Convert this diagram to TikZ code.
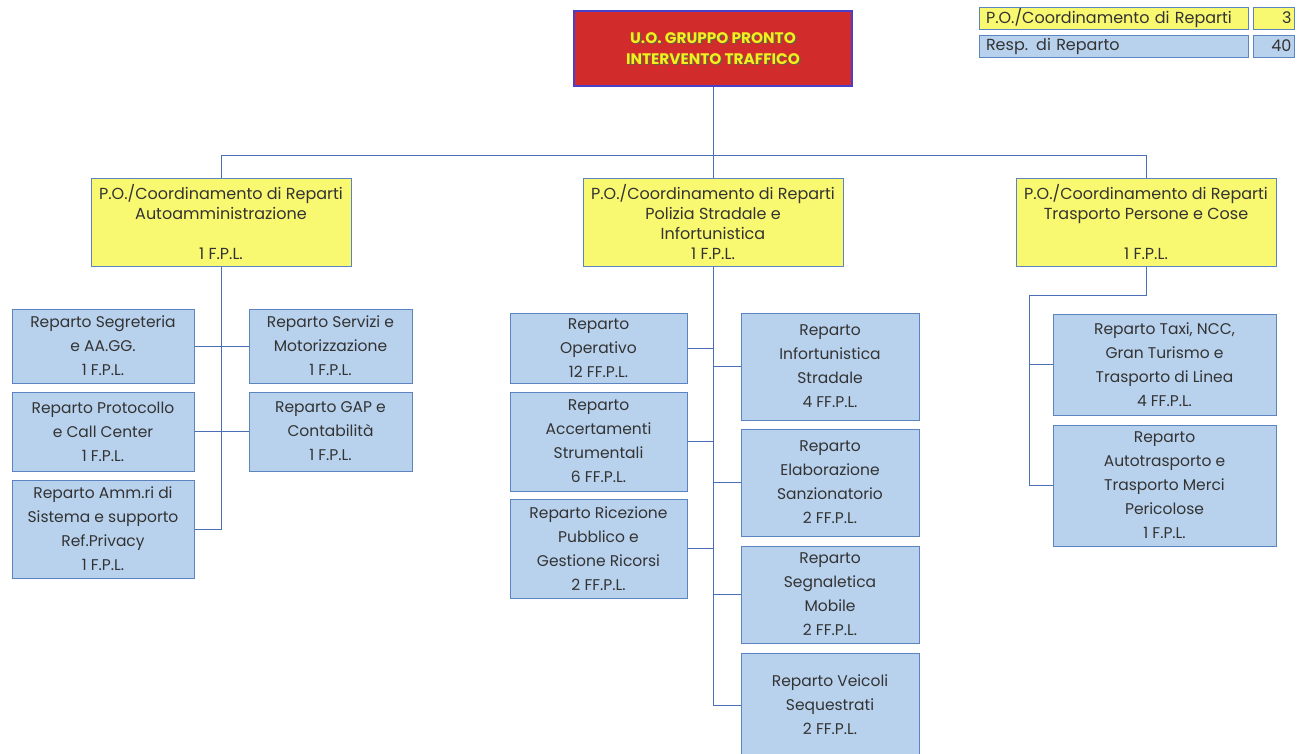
\documentclass[tikz,border=0pt]{standalone}
\usepackage{fontspec}
\setmainfont{Poppins}
\definecolor{yel}{HTML}{F9F871}
\definecolor{blu}{HTML}{B8D2EE}
\definecolor{bord}{HTML}{5B84C0}
\definecolor{lin}{HTML}{4A6FB5}
\definecolor{redf}{HTML}{D22B2B}
\definecolor{redb}{HTML}{4A3FC8}
\definecolor{txt}{HTML}{333333}
\definecolor{ttl}{HTML}{F6EE1E}
\definecolor{shd}{HTML}{6E5E40}
\tikzset{
  base/.style={draw=bord, line width=1pt, inner sep=0pt, text=txt, align=center},
  ybox/.style={base, fill=yel, minimum width=260pt, minimum height=88pt, font=\fontsize{16}{20}\selectfont},
  bbox/.style={base, fill=blu, font=\fontsize{15.5}{24}\selectfont},
  lgd/.style={base, fill=#1, minimum height=22pt, font=\fontsize{16}{18}\selectfont},
  conn/.style={draw=lin, line width=0.9pt}
}
\begin{document}
\begin{tikzpicture}[x=1pt,y=-1pt]
\useasboundingbox (0,0) rectangle (1303,753);
% title
\node[draw=redb, line width=1.2pt, fill=redf, minimum width=278pt, minimum height=75pt, inner sep=0pt] (top) at (713,48.5) {};
\node[text=shd, font=\bfseries\fontsize{15.3}{21}\selectfont, align=center] (topshadow) at (714.5,50) {U.O. GRUPPO PRONTO\\INTERVENTO TRAFFICO};
\node[text=ttl, font=\bfseries\fontsize{15.3}{21}\selectfont, align=center] (toptext) at (713,48.5) {U.O. GRUPPO PRONTO\\INTERVENTO TRAFFICO};
% legend
\node[lgd=yel, minimum width=269pt, text width=255pt, align=left] (lg1) at (1113.5,18) {P.O./Coordinamento di Reparti};
\node[lgd=yel, minimum width=41pt, text width=36pt, align=right] (ln1) at (1273.5,18) {3};
\node[lgd=blu, minimum width=269pt, text width=255pt, align=left] (lg2) at (1113.5,46) {Resp. di Reparto};
\node[lgd=blu, minimum width=41pt, text width=36pt, align=right] (ln2) at (1273.5,46) {40};
% yellow boxes
\node[ybox] (y1) at (221,222) {P.O./Coordinamento di Reparti\\Autoamministrazione\\\strut\\1 F.P.L.};
\node[ybox] (y2) at (713,222) {P.O./Coordinamento di Reparti\\Polizia Stradale e\\Infortunistica\\1 F.P.L.};
\node[ybox] (y3) at (1146,222) {P.O./Coordinamento di Reparti\\Trasporto Persone e Cose\\\strut\\1 F.P.L.};
% left column
\node[bbox, minimum width=182pt, minimum height=74pt] (l1) at (103,346) {Reparto Segreteria\\e AA.GG.\\1 F.P.L.};
\node[bbox, minimum width=182pt, minimum height=79pt] (l2) at (103,431.5) {Reparto Protocollo\\e Call Center\\1 F.P.L.};
\node[bbox, minimum width=182pt, minimum height=98pt] (l3) at (103,529) {Reparto Amm.ri di\\Sistema e supporto\\Ref.Privacy\\1 F.P.L.};
\node[bbox, minimum width=163pt, minimum height=74pt] (r1) at (330.5,346) {Reparto Servizi e\\Motorizzazione\\1 F.P.L.};
\node[bbox, minimum width=163pt, minimum height=79pt] (r2) at (330.5,431.5) {Reparto GAP e\\Contabilità\\1 F.P.L.};
% middle column
\node[bbox, minimum width=177pt, minimum height=70pt] (m1) at (598.5,348) {Reparto\\Operativo\\12 FF.P.L.};
\node[bbox, minimum width=177pt, minimum height=99pt] (m2) at (598.5,441.5) {Reparto\\Accertamenti\\Strumentali\\6 FF.P.L.};
\node[bbox, minimum width=177pt, minimum height=99pt] (m3) at (598.5,548.5) {Reparto Ricezione\\Pubblico e\\Gestione Ricorsi\\2 FF.P.L.};
\node[bbox, minimum width=178pt, minimum height=107pt] (n1) at (830,366.5) {Reparto\\Infortunistica\\Stradale\\4 FF.P.L.};
\node[bbox, minimum width=178pt, minimum height=107pt] (n2) at (830,482.5) {Reparto\\Elaborazione\\Sanzionatorio\\2 FF.P.L.};
\node[bbox, minimum width=178pt, minimum height=97pt] (n3) at (830,594.5) {Reparto\\Segnaletica\\Mobile\\2 FF.P.L.};
\node[bbox, minimum width=178pt, minimum height=104pt] (n4) at (830,705) {Reparto Veicoli\\Sequestrati\\2 FF.P.L.};
% right column
\node[bbox, minimum width=223pt, minimum height=101pt] (t1) at (1164.5,364.5) {Reparto Taxi, NCC,\\Gran Turismo e\\Trasporto di Linea\\4 FF.P.L.};
\node[bbox, minimum width=223pt, minimum height=121pt] (t2) at (1164.5,485.5) {Reparto\\Autotrasporto e\\Trasporto Merci\\Pericolose\\1 F.P.L.};
% connectors
\coordinate (j) at (713,155);
\coordinate (k3) at (1029,295);
\draw[conn] (top.south) -- (j);
\draw[conn] (j) -| (y1.north);
\draw[conn] (j) -| (y3.north);
\draw[conn] (j) -- (y2.north);
\draw[conn] (y1.south) |- (l3.east);
\draw[conn] (l1.east) -- (r1.west);
\draw[conn] (l2.east) -- (r2.west);
\draw[conn] (y2.south) |- (n4.west);
\draw[conn] (m1.east) -- (m1.east -| y2.south);
\draw[conn] (m2.east) -- (m2.east -| y2.south);
\draw[conn] (m3.east) -- (m3.east -| y2.south);
\draw[conn] (n1.west) -- (n1.west -| y2.south);
\draw[conn] (n2.west) -- (n2.west -| y2.south);
\draw[conn] (n3.west) -- (n3.west -| y2.south);
\draw[conn] (y3.south) |- (k3) |- (t2.west);
\draw[conn] (t1.west) -- (t1.west -| k3);
\end{tikzpicture}
\end{document}
